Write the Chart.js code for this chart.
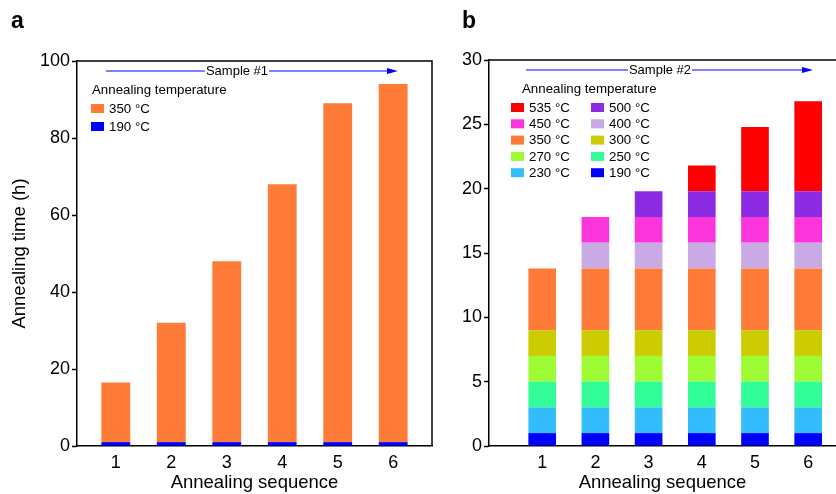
<!DOCTYPE html>
<html>
<head>
<meta charset="utf-8">
<script src="https://cdn.jsdelivr.net/npm/chart.js@4.4.1/dist/chart.umd.min.js"></script>
<style>
  body { margin: 0; background: #fff; }
  #wrap { position: relative; width: 836px; height: 494px; overflow: hidden; }
  canvas { position: absolute; top: 0; }
</style>
</head>
<body>
<div id="wrap">
  <canvas id="chartA" width="445" height="494" style="left:0"></canvas>
  <canvas id="chartB" width="391" height="494" style="left:445px"></canvas>
</div>
<script>
// Annealing sequence positions
const sequence = [1, 2, 3, 4, 5, 6];

// Sample #1 (panel a), hours per temperature
const s1_190 = [1, 1, 1, 1, 1, 1];
const s1_350 = [15.5, 31, 47, 67, 88, 93];

// Sample #2 (panel b), hours per temperature
const s2_190 = [1, 1, 1, 1, 1, 1];
const s2_230 = [2, 2, 2, 2, 2, 2];
const s2_250 = [2, 2, 2, 2, 2, 2];
const s2_270 = [2, 2, 2, 2, 2, 2];
const s2_300 = [2, 2, 2, 2, 2, 2];
const s2_350 = [4.8, 4.8, 4.8, 4.8, 4.8, 4.8];
const s2_400 = [null, 2, 2, 2, 2, 2];
const s2_450 = [null, 2, 2, 2, 2, 2];
const s2_500 = [null, null, 2, 2, 2, 2];
const s2_535 = [null, null, null, 2, 5, 7];

// Tick labels
const yTicksA = [0, 20, 40, 60, 80, 100];
const yTicksB = [0, 5, 10, 15, 20, 25, 30];

const colors = {
  '190': '#0000ff', '230': '#33bdfd', '250': '#31fc98', '270': '#9dfc33',
  '300': '#cccc00', '350': '#fe7b38', '400': '#c9a9e6', '450': '#fc34dc',
  '500': '#8b2be3', '535': '#ff0000'
};

const FONT = "'Liberation Sans', Arial, Helvetica, sans-serif";
Chart.defaults.font.family = FONT;
Chart.defaults.color = '#000';

function points(vals) {
  return vals.map((v, i) => ({ x: sequence[i], y: v }));
}

function ds(label, vals) {
  return {
    label: label + ' °C',
    data: points(vals),
    backgroundColor: colors[label],
    borderWidth: 0,
    barPercentage: 0.52,
    categoryPercentage: 1
  };
}

// draws box edges, the sample arrow, the legend and the panel letter
const decor = {
  id: 'decor',
  afterDraw(chart, args, o) {
    const ctx = chart.ctx;
    const a = chart.chartArea;
    ctx.save();
    ctx.strokeStyle = '#000';
    ctx.lineWidth = 1.5;
    ctx.beginPath();
    ctx.moveTo(a.left, a.top);
    ctx.lineTo(o.boxRight ? a.right : chart.width, a.top);
    if (o.boxRight) ctx.lineTo(a.right, a.bottom);
    ctx.stroke();

    // panel letter
    ctx.fillStyle = '#000';
    ctx.font = 'bold 23px ' + FONT;
    ctx.textBaseline = 'middle';
    ctx.textAlign = 'left';
    ctx.fillText(o.letter, o.letterX, 22);

    // sample arrow
    const ay = a.top + 10;
    const x0 = a.left + o.arrow[0], x1 = a.left + o.arrow[1];
    ctx.font = '13px ' + FONT;
    const tw = ctx.measureText(o.sample).width;
    const tx = a.left + o.arrowText;
    ctx.strokeStyle = '#0000ff';
    ctx.lineWidth = 1;
    ctx.beginPath();
    ctx.moveTo(x0, ay); ctx.lineTo(tx - tw / 2 - 1, ay);
    ctx.moveTo(tx + tw / 2 + 1, ay); ctx.lineTo(x1 - 8, ay);
    ctx.stroke();
    ctx.fillStyle = '#0000ff';
    ctx.beginPath();
    ctx.moveTo(x1, ay); ctx.lineTo(x1 - 11, ay - 3); ctx.lineTo(x1 - 11, ay + 3);
    ctx.closePath(); ctx.fill();
    ctx.fillStyle = '#000';
    ctx.textAlign = 'center';
    ctx.fillText(o.sample, tx, ay);

    // legend
    ctx.textAlign = 'left';
    ctx.font = '13.3px ' + FONT;
    ctx.fillText('Annealing temperature', a.left + o.legTitleX, a.top + 29);
    o.legend.forEach((col, c) => {
      col.forEach((idx, r) => {
        const d = chart.data.datasets[idx];
        const y = a.top + 47 + r * o.rowH;
        const sx = a.left + o.colX[c];
        ctx.fillStyle = d.backgroundColor;
        ctx.fillRect(sx, y - 4, 13, 9);
        ctx.fillStyle = '#000';
        ctx.fillText(d.label, sx + 18, y + 1);
      });
    });
    ctx.restore();
  }
};

function yScale(max, step, width, title) {
  return {
    stacked: true,
    min: 0, max: max,
    afterFit: s => { s.width = width; },
    afterBuildTicks: s => {
      s.ticks = (max === 100 ? yTicksA : yTicksB).map(v => ({ value: v }));
    },
    ticks: { stepSize: step, padding: 2, font: { size: 18 }, color: '#000' },
    grid: { drawOnChartArea: false, drawTicks: true, tickLength: 5, tickColor: '#000', tickWidth: 1.5 },
    border: { display: true, color: '#000', width: 1.5 },
    title: { display: !!title, text: title, font: { size: 18.5 }, color: '#000', padding: { top: 9, bottom: 0 } }
  };
}

function xScale(min, max) {
  return {
    type: 'linear',
    stacked: true,
    offset: false,
    min: min, max: max,
    afterFit: s => { s.height = 48; },
    afterBuildTicks: s => { s.ticks = sequence.map(v => ({ value: v })); },
    ticks: { padding: 6, font: { size: 18 }, color: '#000' },
    grid: { display: false, drawTicks: false, tickLength: 0 },
    border: { display: true, color: '#000', width: 1.5 },
    title: { display: true, text: 'Annealing sequence', font: { size: 18.5 }, color: '#000', padding: { top: 0, bottom: 0 } }
  };
}

new Chart(document.getElementById('chartA'), {
  type: 'bar',
  data: {
    datasets: [ds('190', s1_190), ds('350', s1_350)]
  },
  options: {
    responsive: false,
    animation: false,
    layout: { padding: { top: 61, right: 13, left: 0, bottom: 0 } },
    scales: {
      x: xScale(0.3, 6.7),
      y: yScale(100, 20, 77, 'Annealing time (h)')
    },
    plugins: {
      legend: { display: false },
      tooltip: { enabled: false },
      decor: {
        boxRight: true, letter: 'a', letterX: 11,
        sample: 'Sample #1', arrow: [29, 321], arrowText: 160,
        legTitleX: 15, colX: [14], rowH: 18,
        legend: [[1, 0]]
      }
    }
  },
  plugins: [decor]
});

new Chart(document.getElementById('chartB'), {
  type: 'bar',
  data: {
    datasets: [
      ds('190', s2_190), ds('230', s2_230), ds('250', s2_250), ds('270', s2_270),
      ds('300', s2_300), ds('350', s2_350), ds('400', s2_400), ds('450', s2_450),
      ds('500', s2_500), ds('535', s2_535)
    ]
  },
  options: {
    responsive: false,
    animation: false,
    layout: { padding: { top: 60, right: 0, left: 0, bottom: 0 } },
    scales: {
      x: xScale(0, (391 - 44) / 53.2),
      y: yScale(30, 5, 44, '')
    },
    plugins: {
      legend: { display: false },
      tooltip: { enabled: false },
      decor: {
        boxRight: false, letter: 'b', letterX: 17,
        sample: 'Sample #2', arrow: [37, 324], arrowText: 171,
        legTitleX: 33, colX: [22, 102], rowH: 16.3,
        legend: [[9, 7, 5, 3, 1], [8, 6, 4, 2, 0]]
      }
    }
  },
  plugins: [decor]
});
</script>
</body>
</html>
